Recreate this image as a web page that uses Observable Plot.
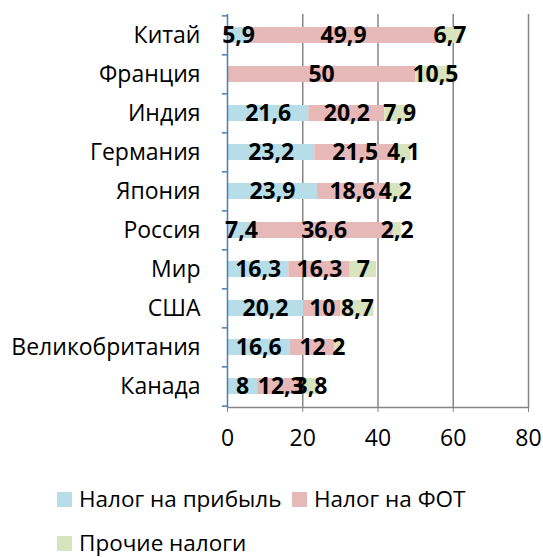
<!DOCTYPE html>
<html>
<head>
<meta charset="utf-8">
<script src="https://cdn.jsdelivr.net/npm/d3@7"></script>
<script src="https://cdn.jsdelivr.net/npm/@observablehq/plot@0.6"></script>
<style>
  html, body { margin: 0; padding: 0; background: white; }
  #wrap { position: relative; width: 543px; height: 557px; font-family: "Open Sans", sans-serif; overflow: hidden; }
  .leg { position: absolute; display: flex; align-items: center; font-size: 22.5px; line-height: 1; color: #000; white-space: nowrap; }
  .sw { width: 15px; height: 15px; margin-right: 7px; }
</style>
</head>
<body>
<div id="wrap"></div>
<script>
const countries = ["Китай", "Франция", "Индия", "Германия", "Япония", "Россия", "Мир", "США", "Великобритания", "Канада"];
const profitTax = [5.9, 0, 21.6, 23.2, 23.9, 7.4, 16.3, 20.2, 16.6, 8];
const payrollTax = [49.9, 50, 20.2, 21.5, 18.6, 36.6, 16.3, 10, 12, 12.3];
const otherTax = [6.7, 10.5, 7.9, 4.1, 4.2, 2.2, 7, 8.7, 2, 3.8];
const seriesNames = ["Налог на прибыль", "Налог на ФОТ", "Прочие налоги"];
const seriesColors = ["#b7dee8", "#e6b9b8", "#d7e4bd"];
const xTicks = [0, 20, 40, 60, 80];

const seriesValues = [profitTax, payrollTax, otherTax];
const data = seriesNames.flatMap((s, si) =>
  countries.map((c, ci) => ({country: c, series: s, value: seriesValues[si][ci]})));
const fmt = v => String(v).replace(".", ",");

const W = 543, H = 460, mT = 14, mB = 53, mL = 227, mR = 15;
const step = (H - mT - mB) / countries.length;

const chart = Plot.plot({
  width: W, height: H,
  marginLeft: mL, marginRight: mR, marginTop: mT, marginBottom: mB,
  style: {fontFamily: "Open Sans", fontSize: "23px", background: "white", color: "black", overflow: "visible"},
  x: {domain: [0, 80], ticks: xTicks, label: null},
  y: {domain: countries, paddingInner: 0.6, paddingOuter: 0.3, label: null},
  color: {domain: seriesNames, range: seriesColors},
  marks: [
    Plot.ruleX(xTicks.slice(1), {stroke: "#868686", strokeWidth: 1.5}),
    Plot.frame({anchor: "bottom", stroke: "#868686", strokeWidth: 1.5}),
    Plot.barX(data, {x: "value", y: "country", fill: "series"}),
    Plot.ruleX([0], {stroke: "#4a7ebb", strokeWidth: 1.5}),
    Plot.ruleY(countries, {y: d => d, x1: -1.35, x2: 0, dy: -step / 2, stroke: "#4a7ebb", strokeWidth: 1.5}),
    Plot.ruleY(countries.slice(-1), {y: d => d, x1: -1.35, x2: 0, dy: step / 2, stroke: "#4a7ebb", strokeWidth: 1.5}),
    Plot.text(data.filter(d => d.value > 0), Plot.stackX({
      x: "value", y: "country", z: "series",
      text: d => fmt(d.value), fontWeight: "bold", fontSize: 23, fill: "black"
    })),
    Plot.axisX({ticks: xTicks, tickSize: 5, stroke: "#868686", tickPadding: 17, fontSize: 23, label: null, tickFormat: d => String(d)}),
    Plot.axisY({tickSize: 0, tickPadding: 27, fontSize: 23, label: null})
  ]
});

const wrap = document.getElementById("wrap");
wrap.appendChild(chart);

const legendPos = [[57, 499], [292, 499], [57, 543]];
seriesNames.forEach((s, i) => {
  const el = document.createElement("div");
  el.className = "leg";
  el.style.left = legendPos[i][0] + "px";
  el.style.top = (legendPos[i][1] - 12) + "px";
  el.style.height = "24px";
  const sw = document.createElement("div");
  sw.className = "sw";
  sw.style.background = seriesColors[i];
  el.appendChild(sw);
  el.appendChild(document.createTextNode(s));
  wrap.appendChild(el);
});
</script>
</body>
</html>
